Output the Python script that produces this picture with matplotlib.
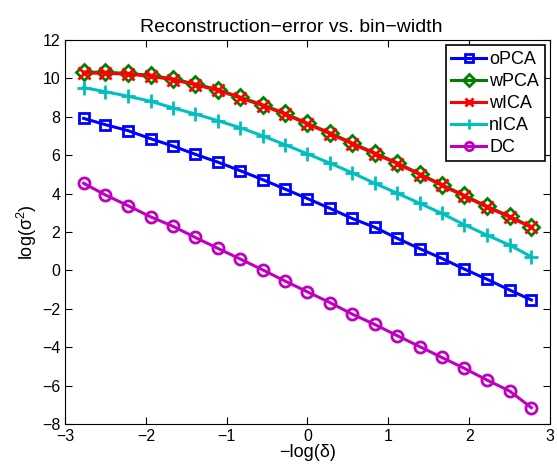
import numpy as np
import matplotlib
matplotlib.use("Agg")
import matplotlib.pyplot as plt

plt.rcParams['font.family'] = ['Liberation Sans', 'DejaVu Sans']
plt.rcParams['mathtext.default'] = 'regular'

# -log(delta) for each bin width
neg_log_delta = [-2.77, -2.50, -2.22, -1.94, -1.66, -1.39, -1.11, -0.83, -0.55, -0.28,
                 0.00, 0.28, 0.55, 0.83, 1.11, 1.39, 1.66, 1.94, 2.22, 2.50, 2.77]

# log of the reconstruction error per method
opca = [7.92, 7.59, 7.28, 6.86, 6.47, 6.05, 5.64, 5.19, 4.72, 4.24,
        3.74, 3.23, 2.71, 2.25, 1.67, 1.13, 0.63, 0.07, -0.46, -1.02, -1.54]
wpca = [10.33, 10.32, 10.26, 10.16, 9.97, 9.71, 9.42, 9.02, 8.62, 8.18,
        7.66, 7.16, 6.64, 6.12, 5.60, 5.03, 4.47, 3.91, 3.34, 2.82, 2.27]
wica = [10.28, 10.27, 10.22, 10.11, 9.93, 9.67, 9.38, 8.98, 8.58, 8.14,
        7.62, 7.12, 6.60, 6.08, 5.56, 4.99, 4.43, 3.87, 3.30, 2.78, 2.24]
nica = [9.52, 9.31, 9.07, 8.81, 8.46, 8.15, 7.80, 7.43, 7.00, 6.55,
        6.07, 5.58, 5.09, 4.54, 4.02, 3.49, 2.97, 2.38, 1.84, 1.32, 0.71]
dc = [4.54, 3.93, 3.37, 2.79, 2.29, 1.72, 1.15, 0.59, 0.02, -0.55,
      -1.12, -1.68, -2.27, -2.81, -3.40, -3.97, -4.53, -5.10, -5.71, -6.28, -7.15]

series = [
    ("oPCA", opca, (0, 0, 1), "s", 7),
    ("wPCA", wpca, (0, 0.5, 0), "D", 8),
    ("wICA", wica, (1, 0, 0), "x", 8),
    ("nICA", nica, (0, 0.75, 0.75), "+", 10),
    ("DC", dc, (0.75, 0, 0.75), "o", 8),
]

fig = plt.figure(figsize=(5.57, 4.68), dpi=100)
ax = fig.add_axes([0.1167, 0.094, 0.8707, 0.8205])

for name, vals, col, mk, ms in series:
    ax.plot(neg_log_delta, vals, color=col, marker=mk, markersize=ms,
            markerfacecolor="none", markeredgecolor=col, markeredgewidth=2,
            linewidth=2.2, label=name)

ax.set_xlim(-3, 3)
ax.set_ylim(-8, 12)
ax.set_xticks(np.arange(-3, 4, 1))
ax.set_yticks(np.arange(-8, 13, 2))
ax.tick_params(direction="in", top=True, right=True, labelsize=11.5, length=5)

ax.set_title("Reconstruction\u2212error vs. bin\u2212width", fontsize=14, x=0.467)
ax.set_xlabel("\u2212log(\u03b4)", fontsize=13, labelpad=0)
ax.set_ylabel("log(\u03c3$^2$)", fontsize=13, labelpad=2)

leg = ax.legend(loc="upper right", fontsize=13, fancybox=False, framealpha=1,
                edgecolor="black", handlelength=1.9, borderpad=0.3,
                labelspacing=0.28, handletextpad=0.2, borderaxespad=0.3)
leg.get_frame().set_linewidth(1.2)
# smaller markers in the legend keys
for h in leg.legend_handles:
    h.set_markersize(h.get_markersize() * 0.75)

fig.savefig("out.png", dpi=100)
